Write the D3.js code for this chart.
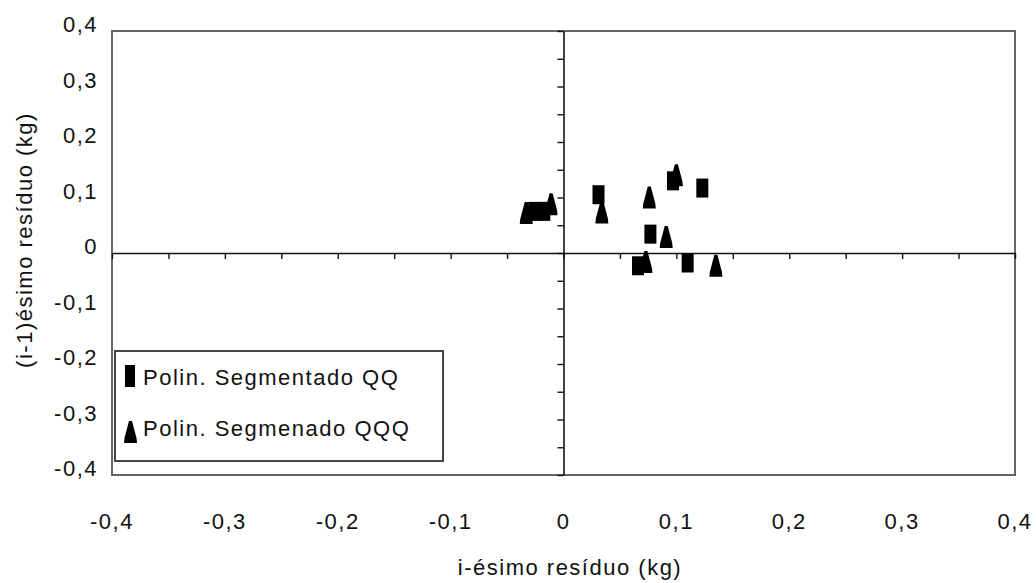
<!DOCTYPE html>
<html>
<head>
<meta charset="utf-8">
<script src="https://cdn.jsdelivr.net/npm/d3@7"></script>
<style>
  body { margin: 0; background: #fff; }
  text { font-family: "Liberation Sans", Arial, sans-serif; font-size: 22px; letter-spacing: 1.5px; fill: #111; }
</style>
</head>
<body>
<script>
// Data
let seriesNames = ["Polin. Segmentado QQ", "Polin. Segmenado QQQ"]

let qqX = [-0.026, -0.017, 0.031, 0.077, 0.097, 0.123, 0.066, 0.110]
let qqY = [0.075, 0.075, 0.105, 0.034, 0.130, 0.117, -0.023, -0.018]

let qqqX = [-0.033, -0.011, 0.034, 0.076, 0.091, 0.073, 0.135, 0.100]
let qqqY = [0.072, 0.088, 0.073, 0.100, 0.029, -0.016, -0.023, 0.140]

let tickValues = [-0.4, -0.3, -0.2, -0.1, 0, 0.1, 0.2, 0.3, 0.4]
let minorTicks = d3.range(-8, 9).map(i => i * 0.05)

let width = 1036
let height = 583

let frame = { left: 112, top: 31, right: 1015, bottom: 475 }

let svg = d3.select('body')
    .append('svg')
    .attr('width', width)
    .attr('height', height)

let xScale = d3.scaleLinear().domain([-0.4, 0.4]).range([frame.left, frame.right])
let yScale = d3.scaleLinear().domain([-0.4, 0.4]).range([frame.bottom, frame.top])

let fmt = d => d === 0 ? "0" : d3.format(".1f")(d).replace(".", ",").replace("\u2212", "-")

// plot frame
svg.append("rect")
    .attr("x", frame.left)
    .attr("y", frame.top)
    .attr("width", frame.right - frame.left)
    .attr("height", frame.bottom - frame.top)
    .attr("fill", "none")
    .attr("stroke", "#666")
    .attr("stroke-width", 2)

// zero axes with small ticks
svg.append("g")
    .attr("transform", `translate(0, ${yScale(0)})`)
    .call(d3.axisBottom(xScale).tickValues(minorTicks).tickFormat("").tickSize(6).tickSizeOuter(0))
svg.append("g")
    .attr("transform", `translate(${xScale(0)}, 0)`)
    .call(d3.axisLeft(yScale).tickValues(minorTicks).tickFormat("").tickSize(6).tickSizeOuter(0))

svg.selectAll(".domain").attr("stroke", "#111").attr("stroke-width", 1.6)
svg.selectAll(".tick line").attr("stroke", "#111").attr("stroke-width", 1.4)

// tick labels
svg.append("g")
    .selectAll("text")
    .data(tickValues)
    .join("text")
    .attr("x", d => xScale(d))
    .attr("y", 529)
    .attr("text-anchor", "middle")
    .text(fmt)

svg.append("g")
    .selectAll("text")
    .data(tickValues)
    .join("text")
    .attr("x", 98)
    .attr("y", d => yScale(d) + 1)
    .attr("text-anchor", "end")
    .text(fmt)

// axis titles
svg.append("text")
    .attr("x", 570)
    .attr("y", 575)
    .attr("text-anchor", "middle")
    .text("i-ésimo resíduo (kg)")

svg.append("text")
    .attr("transform", "translate(32, 240) rotate(-90)")
    .attr("text-anchor", "middle")
    .text("(i-1)ésimo resíduo (kg)")

// markers
let triPath = "M-1.5,-11 L1.5,-11 L6,6 L6.5,11 L-6.5,11 L-6,6 Z"

svg.append("g")
    .selectAll("path")
    .data(qqqX.map((x, i) => ({ x: x, y: qqqY[i] })))
    .join("path")
    .attr("d", triPath)
    .attr("transform", d => `translate(${xScale(d.x)}, ${yScale(d.y)})`)
    .attr("fill", "#000")

svg.append("g")
    .selectAll("rect")
    .data(qqX.map((x, i) => ({ x: x, y: qqY[i] })))
    .join("rect")
    .attr("x", d => xScale(d.x) - 6)
    .attr("y", d => yScale(d.y) - 9.5)
    .attr("width", 12)
    .attr("height", 19)
    .attr("fill", "#000")

// legend
let legend = svg.append("g")
legend.append("rect")
    .attr("x", 115)
    .attr("y", 351)
    .attr("width", 328)
    .attr("height", 110)
    .attr("fill", "#fff")
    .attr("stroke", "#444")
    .attr("stroke-width", 2)

legend.append("rect")
    .attr("x", 125)
    .attr("y", 365)
    .attr("width", 10)
    .attr("height", 22)
    .attr("fill", "#000")
legend.append("path")
    .attr("d", triPath)
    .attr("transform", "translate(130.5, 432)")
    .attr("fill", "#000")

legend.selectAll(".lbl")
    .data(seriesNames)
    .join("text")
    .attr("class", "lbl")
    .attr("x", 143)
    .attr("y", (d, i) => 385 + i * 51)
    .text(d => d)
</script>
</body>
</html>
